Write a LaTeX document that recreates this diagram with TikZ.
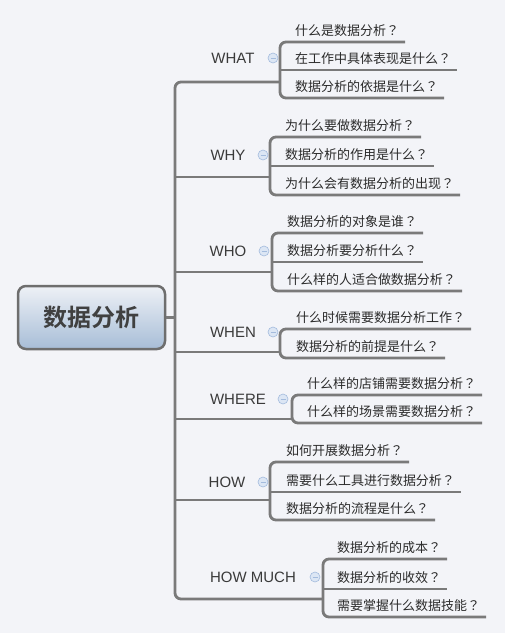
\documentclass[tikz,border=0pt]{standalone}
\usepackage{fontspec}
\setmainfont{Liberation Sans}
\newfontfamily\cjk{Noto Sans CJK SC}[BoldFont={Noto Sans CJK SC Bold}]
\newfontfamily\cjkq{Noto Sans CJK TC}
\newcommand\qmk{{\cjkq ？}}
\definecolor{bg}{HTML}{F3F4F8}
\definecolor{ln}{HTML}{7A7A7A}
\definecolor{bd}{HTML}{6E6E6E}
\definecolor{tx}{HTML}{2B2B2B}
\definecolor{lb}{HTML}{3A3A3A}
\definecolor{cen}{HTML}{404040}
\definecolor{icf}{HTML}{DCE6F4}
\definecolor{icd}{HTML}{A3BBDD}
\definecolor{gtop}{HTML}{EEF1F6}
\definecolor{gbot}{HTML}{A7BDD7}
\begin{document}
\begin{tikzpicture}[x=1pt,y=-1pt,
 conn/.style={draw=ln, line width=2.8pt},
 rconn/.style={conn, rounded corners=6pt},
 child/.style={anchor=south west, inner xsep=6pt, inner ysep=4pt, text height=10pt, text depth=3pt, outer sep=0pt, font=\cjk\fontsize{13}{13}\selectfont, text=tx},
 topic/.style={font=\fontsize{15}{15}\selectfont, text=lb, inner sep=0pt},
 icon/.style={circle, minimum size=10pt, inner sep=0pt, fill=icf, draw=icd, line width=0.6pt,
   path picture={\draw[icd, line width=1pt] ([xshift=-2.5pt]path picture bounding box.center) -- ([xshift=2.5pt]path picture bounding box.center);}},
 rootbox/.style={draw=bd, line width=2.5pt, rounded corners=8pt, top color=gtop, bottom color=gbot, minimum width=147pt, minimum height=63pt, font=\cjk\bfseries\fontsize{24}{24}\selectfont, text=cen}
 ]
\useasboundingbox[fill=bg] (0,0) rectangle (505,633);

% root
\node[rootbox] (root) at (91.5,317.5) {数据分析};
\coordinate (t) at (175,317.5);

% ---------- WHAT
\coordinate (gA) at (280,82);
\node[topic] (lA) at (233,58) {WHAT};
\node[icon] (iA) at (273,58) {};
\node[child] (a1) at (289,42) {什么是数据分析\qmk};
\node[child] (a2) at (289,70) {在工作中具体表现是什么\qmk};
\node[child] (a3) at (289,98) {数据分析的依据是什么\qmk};
\draw[rconn] (a1.south east) -- (a1.south west -| gA) -- (a3.south west -| gA) -- (a3.south east);
\draw[conn] (a2.south west -| gA) -- (a2.south east);

% ---------- WHY
\coordinate (gB) at (270,177);
\node[topic] (lB) at (228,155) {WHY};
\node[icon] (iB) at (263,155) {};
\node[child] (b1) at (279,137) {为什么要做数据分析\qmk};
\node[child] (b2) at (279,166) {数据分析的作用是什么\qmk};
\node[child] (b3) at (279,195) {为什么会有数据分析的出现\qmk};
\draw[rconn] (b1.south east) -- (b1.south west -| gB) -- (b3.south west -| gB) -- (b3.south east);
\draw[conn] (b2.south west -| gB) -- (b2.south east);

% ---------- WHO
\coordinate (gC) at (272,272);
\node[topic] (lC) at (228,251) {WHO};
\node[icon] (iC) at (264,251) {};
\node[child] (c1) at (281,233) {数据分析的对象是谁\qmk};
\node[child] (c2) at (281,262) {数据分析要分析什么\qmk};
\node[child] (c3) at (281,291) {什么样的人适合做数据分析\qmk};
\draw[rconn] (c1.south east) -- (c1.south west -| gC) -- (c3.south west -| gC) -- (c3.south east);
\draw[conn] (c2.south west -| gC) -- (c2.south east);

% ---------- WHEN
\coordinate (gD) at (280,352);
\node[topic] (lD) at (233,332) {WHEN};
\node[icon] (iD) at (273,332) {};
\node[child] (d1) at (290,329) {什么时候需要数据分析工作\qmk};
\node[child] (d2) at (290,358) {数据分析的前提是什么\qmk};
\draw[rconn] (d1.south east) -- (d1.south west -| gD) -- (d2.south west -| gD) -- (d2.south east);

% ---------- WHERE
\coordinate (gE) at (292,419);
\node[topic] (lE) at (238,399) {WHERE};
\node[icon] (iE) at (283,399) {};
\node[child] (e1) at (301,395) {什么样的店铺需要数据分析\qmk};
\node[child] (e2) at (301,423) {什么样的场景需要数据分析\qmk};
\draw[rconn] (e1.south east) -- (e1.south west -| gE) -- (e2.south west -| gE) -- (e2.south east);

% ---------- HOW
\coordinate (gF) at (270,500);
\node[topic] (lF) at (227,482) {HOW};
\node[icon] (iF) at (263,482) {};
\node[child] (f1) at (280,462) {如何开展数据分析\qmk};
\node[child] (f2) at (280,492) {需要什么工具进行数据分析\qmk};
\node[child] (f3) at (280,520) {数据分析的流程是什么\qmk};
\draw[rconn] (f1.south east) -- (f1.south west -| gF) -- (f3.south west -| gF) -- (f3.south east);
\draw[conn] (f2.south west -| gF) -- (f2.south east);

% ---------- HOW MUCH
\coordinate (gG) at (323,599);
\node[topic] (lG) at (253,577) {HOW MUCH};
\node[icon] (iG) at (315,577) {};
\node[child] (g1) at (331,559) {数据分析的成本\qmk};
\node[child] (g2) at (331,589) {数据分析的收效\qmk};
\node[child] (g3) at (331,617) {需要掌握什么数据技能\qmk};
\draw[rconn] (g1.south east) -- (g1.south west -| gG) -- (g3.south west -| gG) -- (g3.south east);
\draw[conn] (g2.south west -| gG) -- (g2.south east);

% ---------- trunk
\draw[rconn] (gA) -- (gA -| t) -- (gG -| t) -- (gG);
\draw[conn] (gB -| t) -- (gB);
\draw[conn] (gC -| t) -- (gC);
\draw[conn] (gD -| t) -- (gD);
\draw[conn] (gE -| t) -- (gE);
\draw[conn] (gF -| t) -- (gF);
\draw[conn] (root.east) -- (t);
\end{tikzpicture}
\end{document}
